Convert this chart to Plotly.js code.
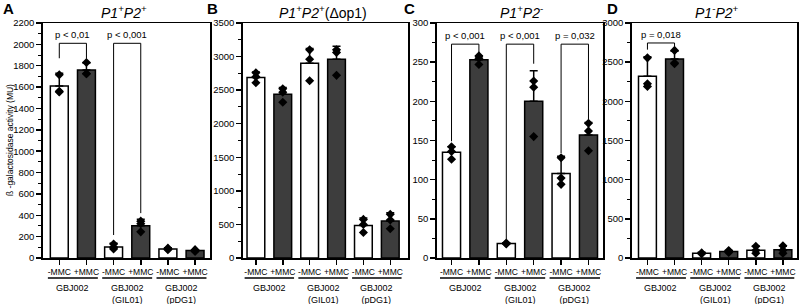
<!DOCTYPE html>
<html><head><meta charset="utf-8">
<script src="https://cdn.plot.ly/plotly-3.0.1.min.js"></script>
<style>html,body{margin:0;padding:0;background:#fff}#chart{width:800px;height:304px}</style>
</head><body><div id="chart"></div>
<script>
// ---- data ----
const conditions = ['-MMC', '+MMC', '-MMC', '+MMC', '-MMC', '+MMC'];
const strains = ['GBJ002', 'GBJ002<br>(GIL01)', 'GBJ002<br>(pDG1)'];
const panelLetters = ['A', 'B', 'C', 'D'];
const panelTitles = [
  '<i>P1</i><sup>+</sup><i>P2</i><sup>+</sup>',
  '<i>P1</i><sup>+</sup><i>P2</i><sup>+</sup>(Δop1)',
  '<i>P1</i><sup>+</sup><i>P2</i><sup>-</sup>',
  '<i>P1</i><sup>-</sup><i>P2</i><sup>+</sup>'
];
const yTitle = 'ß -galactosidase activity (MU)';

const meansA = [1610, 1760, 103, 303, 85, 70];
const errA = [120, 65, 35, 60, 10, 8];
const pointsA = [[1715, 1555, 1560], [1830, 1725, 1725], [130, 95, 85], [345, 320, 245], [92, 85, 78], [78, 70, 62]];

const meansB = [2690, 2440, 2900, 2960, 485, 550];
const errB = [80, 100, 220, 195, 110, 125];
const pointsB = [[2760, 2700, 2610], [2520, 2470, 2320], [3100, 2960, 2640], [3100, 3060, 2720], [575, 500, 380], [650, 565, 435]];

const meansC = [135, 253, 18.5, 200, 108, 157];
const errC = [7, 5, 1, 39, 22, 16];
const pointsC = [[142, 136, 126], [258, 255, 247], [19, 18.5, 18], [226, 218, 155], [128, 102, 94], [172, 162, 137]];

const meansD = [2320, 2540, 60, 82, 100, 105];
const errD = [250, 100, 15, 15, 50, 45];
const pointsD = [[2555, 2225, 2190], [2650, 2490, 2480], [65, 58, 55], [95, 85, 70], [150, 95, 60], [155, 100, 60]];

const yMax = [2200, 3500, 300, 3000];
const yStep = [200, 500, 50, 500];

// significance brackets: [left cat, right cat, top, left leg end, right leg end, label]
const bracketsA = [[0, 1, 2010, 1870, 1865, 'p < 0,01'], [2, 3, 2010, 215, 420, 'p < 0,001']];
const bracketsB = [];
const bracketsC = [[0, 1, 273, 149, 262, 'p < 0,001'], [2, 3, 273, 24, 248, 'p < 0,001'], [4, 5, 273, 134, 177, 'p = 0,032']];
const bracketsD = [[0, 1, 2745, 2660, 2700, 'p = 0,018']];

// ---- layout geometry (pixels) ----
const W = 800, H = 304;
const plotTop = 23, plotBottom = 258;
const xPix = [[43, 210], [243, 408], [437, 603], [632, 797]];
const xRanges = [[-0.6, 5.55], [-0.48, 5.66], [-0.53, 5.53], [-0.57, 5.52]];
const titleX = [124, 323, 521, 717];
const letterX = [8, 212, 410, 612];

const WHITE = '#ffffff', DARK = '#3d3d3d';
const FONT = 'Liberation Sans, Arial, sans-serif';

const means = [meansA, meansB, meansC, meansD];
const errs = [errA, errB, errC, errD];
const points = [pointsA, pointsB, pointsC, pointsD];
const brackets = [bracketsA, bracketsB, bracketsC, bracketsD];

const traces = [];
const shapes = [];
const annotations = [];
const layout = {
  width: W, height: H,
  margin: {l: 0, r: 0, t: 0, b: 0},
  paper_bgcolor: '#fff', plot_bgcolor: '#fff',
  showlegend: false,
  font: {family: FONT, color: '#000'}
};
const cats = conditions.map((_, i) => i);
const py = p => 1 - p / H;

for (let k = 0; k < 4; k++) {
  const sfx = k === 0 ? '' : String(k + 1);
  const xa = 'x' + sfx, ya = 'y' + sfx;
  traces.push({
    type: 'bar', x: cats, y: means[k], xaxis: xa, yaxis: ya,
    width: 0.66,
    marker: {color: cats.map(i => i % 2 === 0 ? WHITE : DARK), line: {color: '#000', width: 1.5}},
    error_y: {type: 'data', symmetric: false, array: errs[k], arrayminus: cats.map(() => 0),
      color: '#000', thickness: 1.5, width: 4},
    hoverinfo: 'skip'
  });
  const px = [], pv = [];
  points[k].forEach((arr, i) => arr.forEach(v => { px.push(i); pv.push(v); }));
  traces.push({
    type: 'scatter', mode: 'markers', x: px, y: pv, xaxis: xa, yaxis: ya,
    marker: {symbol: 'diamond', size: 7, color: '#000'}, cliponaxis: false, hoverinfo: 'skip'
  });
  layout['xaxis' + sfx] = {
    domain: [xPix[k][0] / W, xPix[k][1] / W], anchor: ya, range: xRanges[k],
    tickmode: 'array', tickvals: cats, ticktext: conditions,
    ticks: 'outside', ticklen: 5, tickwidth: 1.5, tickcolor: '#000',
    tickfont: {size: 8.5, family: FONT, color: '#000'},
    showline: true, linewidth: 1.5, linecolor: '#000', mirror: true,
    showgrid: false, zeroline: false, fixedrange: true
  };
  layout['yaxis' + sfx] = {
    domain: [py(plotBottom), py(plotTop)], anchor: xa, range: [0, yMax[k]],
    tickmode: 'linear', tick0: 0, dtick: yStep[k],
    ticks: 'outside', ticklen: 5, tickwidth: 1.5, tickcolor: '#000',
    minor: {ticks: 'outside', ticklen: 3, tickwidth: 1, tickcolor: '#000', dtick: yStep[k] / 2, showgrid: false},
    tickfont: {size: 9.5, family: FONT, color: '#000'},
    showline: true, linewidth: 1.8, linecolor: '#000', mirror: true,
    showgrid: false, zeroline: false, fixedrange: true
  };
  // group underlines and strain labels
  strains.forEach((s, g) => {
    shapes.push({type: 'line', xref: xa, yref: 'paper', x0: 2 * g - 0.42, x1: 2 * g + 1.42,
      y0: py(278), y1: py(278), line: {color: '#000', width: 1.5}});
    annotations.push({xref: xa, yref: 'paper', x: 2 * g + 0.5, y: py(280.5), yanchor: 'top', xanchor: 'center',
      text: s, showarrow: false, font: {size: 9, family: FONT, color: '#000'}});
  });
  // brackets
  brackets[k].forEach(b => {
    const [c0, c1, top, l0, l1, lab] = b;
    shapes.push({type: 'path', xref: xa, yref: ya,
      path: `M ${c0},${l0} L ${c0},${top} L ${c1},${top} L ${c1},${l1}`,
      line: {color: '#000', width: 1}});
    annotations.push({xref: xa, yref: ya, x: (c0 + c1) / 2, y: top, yanchor: 'bottom', xanchor: 'center',
      yshift: 1, text: lab, showarrow: false, font: {size: 9.5, family: FONT, color: '#000'}});
  });
  // panel letter and title
  annotations.push({xref: 'paper', yref: 'paper', x: letterX[k] / W, y: py(9), xanchor: 'center', yanchor: 'middle',
    text: '<b>' + panelLetters[k] + '</b>', showarrow: false, font: {size: 15, family: FONT, color: '#000'}});
  annotations.push({xref: 'paper', yref: 'paper', x: titleX[k] / W, y: py(12), xanchor: 'center', yanchor: 'middle',
    text: panelTitles[k], showarrow: false, font: {size: 14, family: FONT, color: '#000'}});
}
annotations.push({xref: 'paper', yref: 'paper', x: 10 / W, y: py(140), xanchor: 'center', yanchor: 'middle',
  textangle: -90, text: yTitle, showarrow: false, font: {size: 8.5, family: FONT, color: '#000'}});

layout.shapes = shapes;
layout.annotations = annotations;
Plotly.newPlot('chart', traces, layout, {staticPlot: true, displayModeBar: false});
</script></body></html>
